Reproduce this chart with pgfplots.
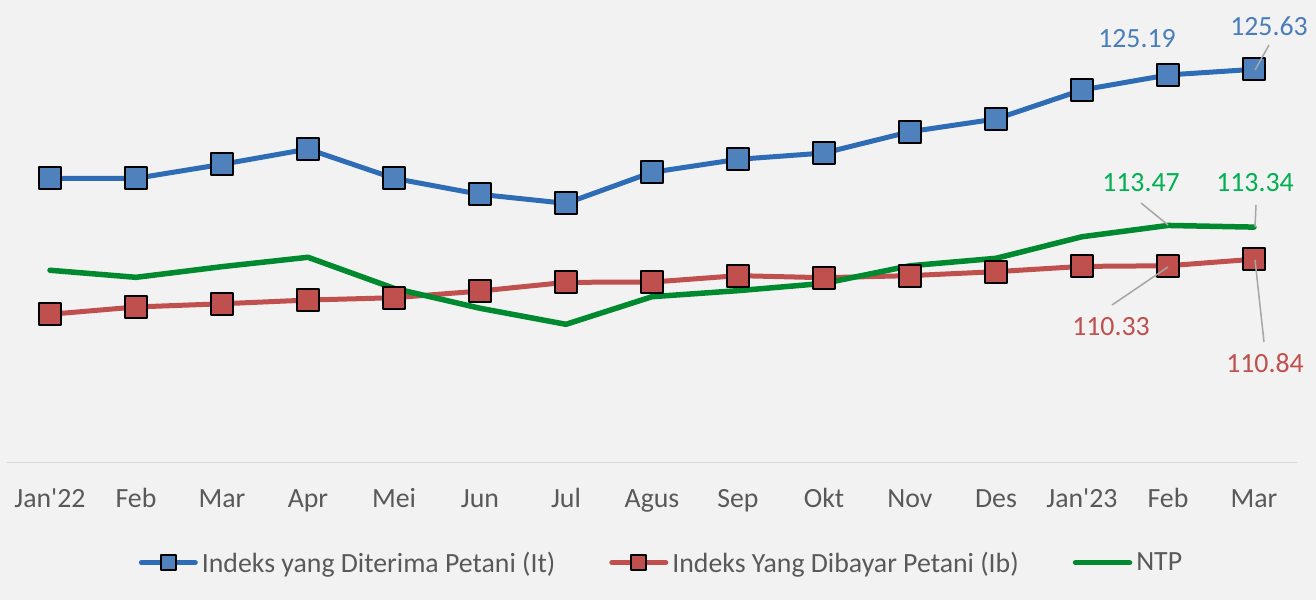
\documentclass[border=0pt]{standalone}
\usepackage{fontspec}
\setmainfont{Carlito}
\usepackage{pgfplots}
\pgfplotsset{compat=1.18}
\definecolor{bgc}{HTML}{F2F2F2}
\definecolor{itline}{HTML}{2E6DB5}
\definecolor{itfill}{HTML}{4F81BD}
\definecolor{itlab}{HTML}{4A7EBB}
\definecolor{ibc}{HTML}{C0504D}
\definecolor{ntpline}{HTML}{00892F}
\definecolor{ntptext}{HTML}{00B050}
\definecolor{txt}{HTML}{595959}
\definecolor{axc}{HTML}{D9D9D9}
\definecolor{lead}{HTML}{A6A6A6}
\newcommand{\fs}{\fontsize{27.8pt}{33pt}\selectfont}
\begin{document}
\begin{tikzpicture}[x=1pt,y=1pt]
\fill[bgc] (0,0) rectangle (1316,600);
\begin{axis}[
  at={(7pt,137.4pt)}, anchor=south west,
  scale only axis, width=1290pt, height=449.4pt,
  xmin=-0.5, xmax=14.5, ymin=95, ymax=130,
  axis y line=none, axis x line*=bottom,
  x axis line style={draw=axc, line width=1.5pt},
  xtick={0,...,14},
  xticklabels={Jan\textquotesingle22,Feb,Mar,Apr,Mei,Jun,Jul,Agus,Sep,Okt,Nov,Des,Jan\textquotesingle23,Feb,Mar},
  major tick length=0pt,
  xticklabel style={font=\fs, text=txt, anchor=base, yshift=-45pt},
  clip=false,
  legend columns=3,
  legend cell align=left,
  legend style={at={(axis description cs:0.5,0)}, anchor=center, xshift=8.5pt, yshift=-100pt,
    draw=none, fill=none, font=\fs, text=txt, nodes={inner sep=0pt},
    /tikz/every odd column/.append style={column sep=4pt},
    /tikz/every even column/.append style={column sep=54pt}},
  legend image code/.code={\draw[mark repeat=2,mark phase=2,mark size=7.5pt] plot coordinates {(0pt,0pt) (27pt,0pt) (54pt,0pt)};},
]
\addplot[itline, line width=5pt, line join=round, line cap=round, mark=square*, mark size=11pt,
  mark options={fill=itfill, draw=black, line width=2pt, solid}] coordinates {
(0,117.14) (1,117.14) (2,118.23) (3,119.42) (4,117.14) (5,115.89) (6,115.19) (7,117.61)
(8,118.62) (9,119.11) (10,120.77) (11,121.76) (12,124.02) (13,125.19) (14,125.63)};
\addlegendentry{Indeks yang Diterima Petani (It)}
\addplot[ibc, line width=5pt, line join=round, line cap=round, mark=square*, mark size=11pt,
  mark options={fill=ibc, draw=black, line width=2pt, solid}] coordinates {
(0,106.55) (1,107.12) (2,107.37) (3,107.66) (4,107.84) (5,108.36) (6,109.04) (7,109.06)
(8,109.56) (9,109.40) (10,109.56) (11,109.87) (12,110.28) (13,110.33) (14,110.84)};
\addlegendentry{Indeks Yang Dibayar Petani (Ib)}
\addplot[ntpline, line width=5.5pt, line join=round, line cap=round, no marks] coordinates {
(0,109.98) (1,109.43) (2,110.26) (3,110.99) (4,108.57) (5,107.02) (6,105.77) (7,107.92)
(8,108.39) (9,108.96) (10,110.33) (11,110.91) (12,112.59) (13,113.47) (14,113.34)};
\addlegendentry{NTP}
\end{axis}
\draw[lead, line width=1.5pt] (1269,555) -- (1255,530);
\draw[lead, line width=1.5pt] (1141,397) -- (1168,375);
\draw[lead, line width=1.5pt] (1256,395) -- (1255,373);
\draw[lead, line width=1.5pt] (1112,295) -- (1168,333);
\draw[lead, line width=1.5pt] (1255,340) -- (1264,258);
\node[font=\fs, text=itlab] at (1137,561) {125.19};
\node[font=\fs, text=itlab] at (1269,574) {125.63};
\node[font=\fs, text=ntptext] at (1141,417) {113.47};
\node[font=\fs, text=ntptext] at (1255,417) {113.34};
\node[font=\fs, text=ibc] at (1111,273) {110.33};
\node[font=\fs, text=ibc] at (1265,237) {110.84};
\end{tikzpicture}
\end{document}
